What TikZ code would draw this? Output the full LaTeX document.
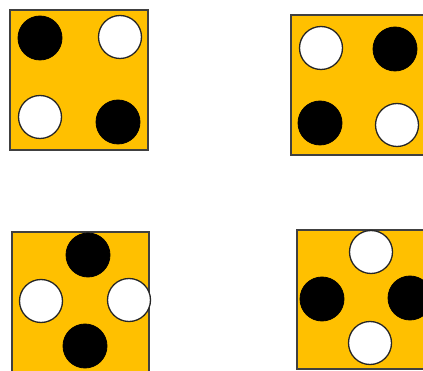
\documentclass[tikz,border=0pt]{standalone}
\begin{document}
\begin{tikzpicture}[x=1pt,y=-1pt,
  board/.style={fill=boardorange, draw=boardedge, line width=1.6pt},
  blackdot/.style={circle, fill=black, draw=black, line width=0.8pt, minimum size=44pt, inner sep=0pt},
  whitedot/.style={circle, fill=white, draw=black!85, line width=1.3pt, minimum size=43pt, inner sep=0pt}]
\definecolor{boardorange}{HTML}{FFC000}
\definecolor{boardedge}{HTML}{404040}
\useasboundingbox (0,0) rectangle (423,371);
\clip (0,0) rectangle (423,371);
% board 1
\draw[board] (10,10) rectangle (148,150);
\node[blackdot] (a1) at (40,38) {};
\node[whitedot] (a2) at (120,37) {};
\node[whitedot] (a3) at (40,117) {};
\node[blackdot] (a4) at (118,122) {};
% board 2
\draw[board] (291,15) rectangle (430,155);
\node[whitedot] (b1) at (321,48) {};
\node[blackdot] (b2) at (395,49) {};
\node[blackdot] (b3) at (320,123) {};
\node[whitedot] (b4) at (397,125) {};
% board 3
\draw[board] (12,232) rectangle (149,380);
\node[blackdot] (c1) at (88,255) {};
\node[whitedot] (c2) at (41,301) {};
\node[whitedot] (c3) at (129,300) {};
\node[blackdot] (c4) at (85,346) {};
% board 4
\draw[board] (297,230) rectangle (430,369);
\node[whitedot] (d1) at (371,252) {};
\node[blackdot] (d2) at (322,299) {};
\node[blackdot] (d3) at (410,298) {};
\node[whitedot] (d4) at (370,343) {};
\end{tikzpicture}
\end{document}
